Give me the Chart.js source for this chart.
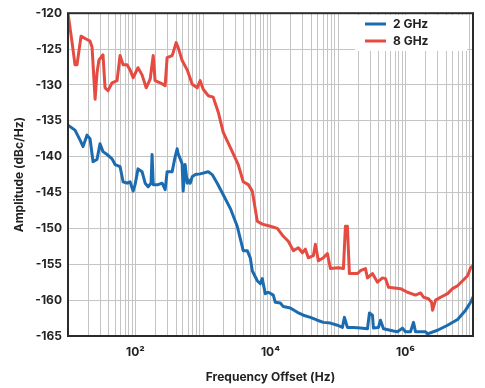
<!DOCTYPE html>
<html>
<head>
<meta charset="utf-8">
<script src="https://cdn.jsdelivr.net/npm/chart.js@4"></script>
<style>
    html, body { margin:0; padding:0; background:#fff; }
    #wrap { width:485px; height:388px; }
</style>
</head>
<body>
<div id="wrap"><canvas id="noiseChart" width="485" height="388"></canvas></div>
<script>

/* DATA */

const freq2 = [10, 12.7, 15.1, 16.7, 19.1, 21.2, 23.5, 26.9, 29.8, 33, 37.9, 45, 49.8, 59.1, 65.5, 75, 83.1, 92.1, 98.6,
    109, 125, 139, 154, 170, 176, 183, 216, 248, 275, 294, 349, 387, 414, 429, 491, 508, 544, 583, 603, 646, 692, 766, 908,
    1194, 1368, 1625, 1995, 2535, 3215, 3945, 4529, 5015, 5370, 6370, 7060, 7551, 8373, 9280, 11000, 11780, 13970, 15480,
    19670, 24990, 30680, 38980, 49440, 60720, 77130, 97970, 116200, 124500, 137800, 169100, 214900, 273100, 292400, 323900,
    335100, 397800, 425800, 471900, 663500, 760700, 902400, 1000000, 1186000, 1314000, 1407000, 1982000, 2120000, 2980000,
    4200000, 5910000, 7770000, 9210000, 10000000];
const amp2 = [-135.6, -136.3, -137.7, -138.6, -137.0, -137.5, -140.7, -140.4, -138.2, -139.3, -139.7, -140.3, -141.1, -141.4,
    -143.5, -143.7, -143.5, -144.8, -143.9, -141.7, -142.1, -143.7, -144.2, -143.7, -139.7, -143.9, -143.9, -143.7, -144.6,
    -142.1, -142.1, -140.0, -138.9, -139.6, -141.0, -144.8, -141.1, -143.7, -143.2, -143.7, -142.8, -142.5, -142.4, -142.1,
    -142.5, -143.7, -145.3, -147.2, -149.7, -153.1, -153.1, -154.1, -155.9, -157.3, -157.7, -157.0, -159.1, -158.9, -159.3,
    -160.3, -160.4, -160.9, -161.1, -161.7, -162.1, -162.4, -162.8, -163.1, -163.2, -163.5, -163.8, -162.4, -163.8, -163.8,
    -163.9, -164.0, -161.8, -162.1, -163.9, -163.8, -162.8, -164.0, -164.3, -164.4, -163.9, -164.4, -164.4, -163.1, -164.4,
    -164.4, -164.7, -164.2, -163.5, -162.7, -161.4, -160.3, -159.6];

const freq8 = [10, 11.5, 12.7, 13.6, 15.6, 18.5, 21.2, 22.7, 25.2, 26.9, 28.8, 33, 35.4, 39.2, 45, 53.3, 59.1, 65.5, 75, 83.1,
    92.1, 109, 125, 144, 165, 183, 195, 232, 275, 294, 349, 361, 400, 429, 491, 583, 692, 820, 908, 1007, 1194, 1416, 1683,
    1995, 2712, 3327, 3945, 4688, 5370, 6370, 7551, 9930, 12620, 15480, 18360, 21780, 25840, 29650, 32830, 36370, 43150,
    46240, 51180, 60720, 69630, 77130, 101400, 120300, 128800, 137800, 147500, 194000, 214900, 255100, 273100, 323900,
    384500, 456000, 505200, 559500, 843500, 1070000, 1407000, 1671000, 1850000, 2190000, 2430000, 2520000, 2790000, 3310000,
    4200000, 4980000, 5910000, 7020000, 8320000, 9210000, 10000000];
const amp8 = [-120.0, -124.1, -127.2, -127.2, -123.2, -123.6, -123.9, -124.7, -132.0, -128.3, -126.5, -125.8, -130.4, -130.8,
    -129.7, -129.4, -125.9, -127.2, -127.2, -127.9, -129.0, -127.6, -128.6, -130.4, -129.2, -125.9, -129.4, -129.7, -130.1,
    -126.2, -125.9, -125.5, -124.1, -124.8, -126.6, -127.9, -129.9, -130.4, -129.4, -130.6, -131.5, -131.7, -133.8, -136.6,
    -139.3, -141.1, -143.5, -143.9, -144.8, -149.0, -149.4, -149.7, -150.0, -151.1, -151.8, -153.1, -152.7, -153.4, -152.9,
    -154.1, -153.8, -152.2, -154.5, -154.1, -153.5, -155.6, -155.5, -155.6, -149.7, -149.7, -156.3, -156.3, -155.9, -155.6,
    -156.9, -156.3, -157.5, -156.9, -157.0, -158.2, -158.4, -158.9, -159.3, -159.0, -159.6, -159.8, -160.3, -161.4, -160.0,
    -159.6, -159.1, -158.4, -158.0, -157.3, -156.6, -155.5, -155.2];

const seriesNames = ["2 GHz", "8 GHz"];
const seriesColors = ["#1b6bb1", "#e54b40"];

const yTicks = [-120, -125, -130, -135, -140, -145, -150, -155, -160, -165];
const xLabelValues = [100, 10000, 1000000];
const xLabelText = ["10²", "10⁴", "10⁶"];

const FONT = "Inter, 'DejaVu Sans', sans-serif";

/* grid lines at 1..9 x 10^n */
const gridValues = [];
for(let d = 1; d < 7; d++){
    for(let m = 1; m < 10; m++){
        gridValues.push(m * Math.pow(10, d));
    }
}
gridValues.push(1e7);

function toPoints(xs, ys){
    return xs.map((x, i) => ({ x: x, y: ys[i] }));
}

/* white legend box inside the plot + dark frame */
const boxPlugin = {
    id: "boxPlugin",
    afterDatasetsDraw(chart){
        const c = chart.ctx;
        const a = chart.chartArea;

        c.save();
        c.fillStyle = "#fff";
        c.fillRect(355, 15, 112, 36);

        c.font = "bold 12px " + FONT;
        c.textBaseline = "middle";
        c.fillStyle = "#222";
        chart.data.datasets.forEach((ds, i) => {
            const y = 24 + i * 17;
            c.strokeStyle = ds.borderColor;
            c.lineWidth = 3;
            c.beginPath();
            c.moveTo(365, y);
            c.lineTo(386, y);
            c.stroke();
            c.fillText(ds.label, 393, y + 0.5);
        });

        c.strokeStyle = "#2b2b2b";
        c.lineWidth = 2;
        c.strokeRect(a.left, a.top, a.right - a.left, a.bottom - a.top);
        c.restore();
    }
};

new Chart(document.getElementById("noiseChart"), {
    type: "line",
    data: {
        datasets: [
            {
                label: seriesNames[0],
                data: toPoints(freq2, amp2),
                borderColor: seriesColors[0],
                backgroundColor: seriesColors[0],
                borderWidth: 3,
                pointRadius: 0,
                tension: 0,
                borderJoinStyle: "round",
                borderCapStyle: "round"
            },
            {
                label: seriesNames[1],
                data: toPoints(freq8, amp8),
                borderColor: seriesColors[1],
                backgroundColor: seriesColors[1],
                borderWidth: 3,
                pointRadius: 0,
                tension: 0,
                borderJoinStyle: "round",
                borderCapStyle: "round"
            }
        ]
    },
    options: {
        responsive: false,
        animation: false,
        devicePixelRatio: 1,
        layout: { padding: { top: 10, right: 12, left: 0, bottom: 0 } },
        plugins: {
            legend: { display: false },
            tooltip: { enabled: false }
        },
        scales: {
            x: {
                type: "logarithmic",
                min: 10,
                max: 1e7,
                afterBuildTicks: scale => {
                    scale.ticks = gridValues.map(v => ({ value: v }));
                },
                afterFit: scale => { scale.height = 52; },
                grid: { color: "#c4c4c4", lineWidth: 1, drawTicks: false },
                border: { display: false },
                ticks: {
                    autoSkip: false,
                    maxRotation: 0,
                    padding: 9,
                    color: "#222",
                    font: { family: FONT, size: 12, weight: "bold" },
                    callback: value => {
                        const i = xLabelValues.findIndex(v => Math.abs(v - value) / v < 1e-6);
                        return i >= 0 ? xLabelText[i] : "";
                    }
                },
                title: {
                    display: true,
                    text: "Frequency Offset (Hz)",
                    color: "#222",
                    font: { family: FONT, size: 12, weight: "bold" },
                    padding: { top: 0, bottom: 3 }
                }
            },
            y: {
                min: -165,
                max: -120,
                afterBuildTicks: scale => {
                    scale.ticks = yTicks.map(v => ({ value: v }));
                },
                afterFit: scale => { scale.width = 68; },
                grid: { color: "#c4c4c4", lineWidth: 1, drawTicks: false },
                border: { display: false },
                ticks: {
                    padding: 6,
                    color: "#222",
                    font: { family: FONT, size: 12, weight: "bold" }
                },
                title: {
                    display: true,
                    text: "Amplitude (dBc/Hz)",
                    color: "#222",
                    font: { family: FONT, size: 12, weight: "bold" },
                    padding: { top: 12, bottom: 0 }
                }
            }
        }
    },
    plugins: [boxPlugin]
});
</script>
</body>
</html>
